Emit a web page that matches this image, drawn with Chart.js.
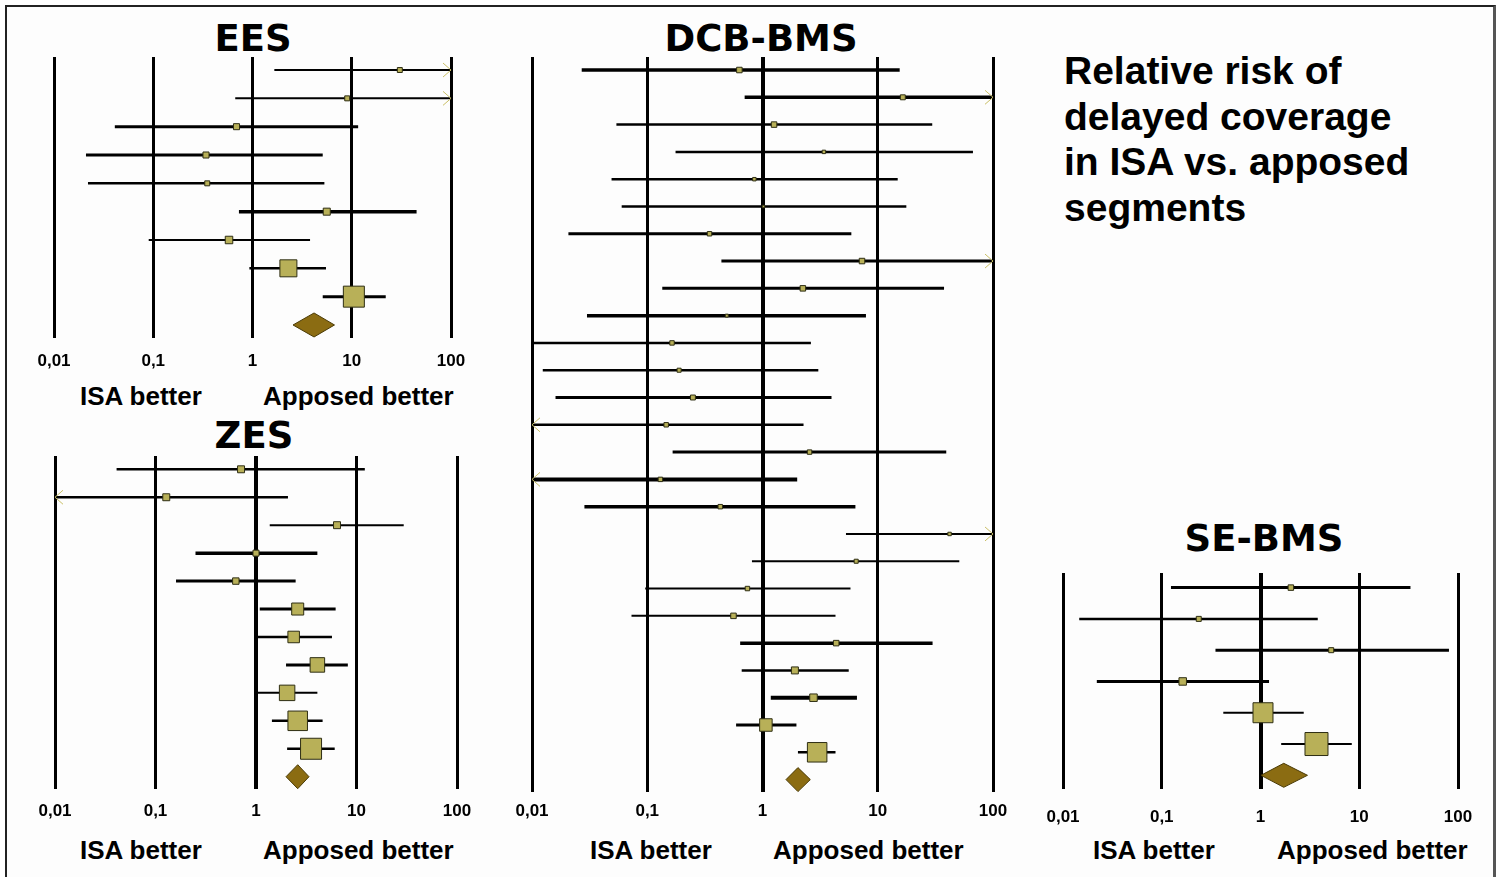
<!DOCTYPE html>
<html>
<head>
<meta charset="utf-8">
<script src="https://cdn.jsdelivr.net/npm/chart.js@4.4.1/dist/chart.umd.min.js"></script>
<style>
  body { margin:0; width:1500px; height:877px; background:#fff; position:relative; overflow:hidden; font-family:"Liberation Sans", Arial, sans-serif; }
  #frame { position:absolute; left:5px; top:5px; width:1486px; height:900px; border-left:2px solid #222; border-top:2px solid #222; border-right:3px solid #555; background:#fdfdfd; }
  canvas { position:absolute; }
  .title { position:absolute; font-family:"DejaVu Sans", sans-serif; font-weight:bold; font-size:37px; line-height:37px; transform:translateX(-50%); white-space:nowrap; color:#000; }
  .foot { position:absolute; font-weight:bold; font-size:26px; line-height:26px; white-space:nowrap; color:#000; }
  #heading { position:absolute; left:1064px; top:48px; font-weight:bold; font-size:39px; line-height:45.5px; color:#000; }
</style>
</head>
<body>
<div id="frame"></div>

<div class="title" style="left:253px; top:20px;">EES</div>
<div class="title" style="left:254px; top:417px;">ZES</div>
<div class="title" style="left:761px; top:20px;">DCB-BMS</div>
<div class="title" style="left:1264px; top:520px;">SE-BMS</div>

<div id="heading">Relative risk of<br>delayed coverage<br>in ISA vs. apposed<br>segments</div>

<div class="foot" style="left:80px; top:383px;">ISA better</div>
<div class="foot" style="left:263px; top:383px;">Apposed better</div>
<div class="foot" style="left:80px; top:837px;">ISA better</div>
<div class="foot" style="left:263px; top:837px;">Apposed better</div>
<div class="foot" style="left:590px; top:837px;">ISA better</div>
<div class="foot" style="left:773px; top:837px;">Apposed better</div>
<div class="foot" style="left:1093px; top:837px;">ISA better</div>
<div class="foot" style="left:1277px; top:837px;">Apposed better</div>

<canvas id="ees"></canvas>
<canvas id="zes"></canvas>
<canvas id="dcb"></canvas>
<canvas id="se"></canvas>

<script>
// log axis ticks
const tickValues = [0.01, 0.1, 1, 10, 100];

// EES: relative risk, 95% CI (null = beyond the axis), weight %
const eesEst = [30.5, 9.0, 0.69, 0.34, 0.35, 5.6, 0.58, 2.3, 10.5];
const eesLow = [1.66, 0.67, 0.041, 0.021, 0.022, 0.73, 0.09, 0.93, 5.1];
const eesHigh = [null, null, 11.6, 5.1, 5.3, 45, 3.8, 5.5, 22];
const eesWeight = [3.1, 3.1, 4.3, 4.3, 3.1, 5.6, 6.3, 28.2, 42.1];
const eesPooled = [4.17, 2.56, 6.7];

// ZES
const zesEst = [0.71, 0.128, 6.4, 1.0, 0.63, 2.6, 2.37, 4.08, 2.04, 2.6, 3.53];
const zesLow = [0.041, null, 1.37, 0.25, 0.16, 1.09, 1.02, 1.99, 1.02, 1.44, 2.04];
const zesHigh = [12.1, 2.08, 29.5, 4.08, 2.48, 6.2, 5.7, 8.2, 4.08, 4.6, 6.07];
const zesWeight = [3.1, 3.1, 3.1, 2.4, 2.7, 8.3, 7.7, 11.8, 13.3, 20.6, 23.7];
const zesPooled = [2.6, 1.99, 3.37];

// DCB-BMS
const dcbEst = [0.63, 16.5, 1.26, 3.41, 0.85, 1.02, 0.347, 7.3, 2.24, 0.49, 0.164, 0.189, 0.249,
  0.146, 2.56, 0.13, 0.43, 42, 6.5, 0.74, 0.56, 4.36, 1.91, 2.77, 1.07, 2.98];
const dcbLow = [0.027, 0.70, 0.054, 0.176, 0.049, 0.060, 0.0207, 0.44, 0.135, 0.030, 0.01, 0.0124, 0.016,
  null, 0.166, null, 0.0285, 5.3, 0.81, 0.096, 0.073, 0.64, 0.66, 1.18, 0.59, 2.03];
const dcbHigh = [15.5, null, 29.7, 67, 14.9, 17.7, 5.9, null, 37.6, 7.9, 2.63, 3.05, 3.97,
  2.27, 39.3, 2.0, 6.4, null, 51, 5.8, 4.3, 29.9, 5.6, 6.6, 1.97, 4.3];
const dcbWeight = [3.0, 2.5, 3.0, 1.4, 1.4, 0.9, 2.1, 3.0, 3.0, 1.1, 2.1, 1.8, 2.5,
  2.1, 2.1, 2.1, 2.1, 1.4, 1.8, 2.1, 3.0, 3.0, 4.5, 5.1, 12.9, 29.7];
const dcbPooled = [2.03, 1.6, 2.6];

// SE-BMS
const seEst = [2.03, 0.237, 5.2, 0.163, 1.06, 3.69];
const seLow = [0.124, 0.0146, 0.35, 0.022, 0.42, 1.62];
const seHigh = [33, 3.8, 81, 1.22, 2.74, 8.4];
const seWeight = [3.5, 3.0, 3.0, 6.0, 36.6, 47.9];
const sePooled = [1.72, 1.01, 2.99];

// line widths of the CI bars (style)
const eesLineW = [2, 2, 3, 3, 2.5, 3.5, 2, 2.5, 3];
const zesLineW = [2.5, 2.5, 2, 3.5, 3, 3, 2.5, 3, 2, 2.5, 2.5];
const dcbLineW = [3.5, 3.5, 2.5, 2.5, 2.5, 2.5, 3, 3, 3, 3.5, 2.5, 2.5, 3, 2.5, 3, 4, 3.5, 2, 2, 2, 2, 3.5, 2.5, 4, 3, 2.5];
const seLineW = [3, 2.5, 3, 3, 2, 2];

const boxFill = '#b8b058';
const diamondFill = '#8b6c12';
const arrowColor = '#c9bf66';

function forestPlugin(p) {
  return {
    id: 'forest',
    beforeDatasetsDraw(chart) {
      const x = chart.scales.x, y = chart.scales.y, ctx = chart.ctx;
      ctx.save();
      p.est.forEach((e, i) => {
        const py = y.getPixelForValue(i + 1);
        const lo = p.low[i] === null ? x.min : Math.max(p.low[i], x.min);
        const hi = p.high[i] === null ? x.max : Math.min(p.high[i], x.max);
        const x0 = x.getPixelForValue(lo), x1 = x.getPixelForValue(hi);
        ctx.strokeStyle = '#000';
        ctx.lineWidth = p.lineW[i];
        ctx.beginPath();
        ctx.moveTo(x0, py);
        ctx.lineTo(x1, py);
        ctx.stroke();
        ctx.strokeStyle = arrowColor;
        ctx.lineWidth = 1;
        if (p.high[i] === null) {
          ctx.beginPath();
          ctx.moveTo(x1 - 8, py - 7); ctx.lineTo(x1, py); ctx.lineTo(x1 - 8, py + 7);
          ctx.stroke();
        }
        if (p.low[i] === null) {
          ctx.beginPath();
          ctx.moveTo(x0 + 8, py - 7); ctx.lineTo(x0, py); ctx.lineTo(x0 + 8, py + 7);
          ctx.stroke();
        }
      });
      // pooled diamond
      const row = p.est.length + 1;
      const py = y.getPixelForValue(row);
      const [pe, pl, ph] = p.pooled;
      ctx.fillStyle = diamondFill;
      ctx.strokeStyle = '#4a3a05';
      ctx.lineWidth = 1;
      ctx.beginPath();
      ctx.moveTo(x.getPixelForValue(pl), py);
      ctx.lineTo(x.getPixelForValue(pe), py - 12);
      ctx.lineTo(x.getPixelForValue(ph), py);
      ctx.lineTo(x.getPixelForValue(pe), py + 12);
      ctx.closePath();
      ctx.fill();
      ctx.stroke();
      ctx.restore();
    }
  };
}

function buildPanel(id, p) {
  const padX = 40, padT = 10;
  const areaW = p.right - p.left, areaH = p.bottom - p.top;
  // the x axis box takes the tick padding twice plus one label line
  const axisH = 2 * p.tickPad + 17 * 1.2;
  const H = Math.ceil(areaH + padT + axisH + 10);
  const canvas = document.getElementById(id);
  canvas.width = areaW + 2 * padX;
  canvas.height = H;
  canvas.style.left = (p.left - padX) + 'px';
  canvas.style.top = (p.top - padT) + 'px';
  const maxW = Math.max(...p.weight);

  new Chart(canvas, {
    type: 'scatter',
    data: {
      datasets: [{
        data: p.est.map((e, i) => ({ x: e, y: i + 1 })),
        pointStyle: 'rect',
        pointRadius: p.weight.map(w => (p.maxSide * Math.sqrt(w / maxW) - 1) / Math.SQRT2),
        backgroundColor: boxFill,
        borderColor: '#2e2e14',
        borderWidth: 1
      }]
    },
    options: {
      responsive: false,
      animation: false,
      devicePixelRatio: 1,
      events: [],
      layout: { autoPadding: false, padding: { left: padX, right: padX, top: padT, bottom: H - padT - areaH - axisH } },
      plugins: { legend: { display: false }, tooltip: { enabled: false } },
      scales: {
        x: {
          type: 'logarithmic',
          min: 0.01,
          max: 100,
          afterBuildTicks: axis => { axis.ticks = tickValues.map(v => ({ value: v })); },
          border: { display: false },
          grid: {
            color: '#000',
            drawTicks: false,
            lineWidth: c => (c.tick && c.tick.value === 1 ? p.oneW : 3)
          },
          ticks: {
            autoSkip: false,
            maxRotation: 0,
            padding: p.tickPad,
            color: '#000',
            font: { family: 'Liberation Sans', weight: 'bold', size: 17 },
            callback: v => String(v).replace('.', ',')
          }
        },
        y: {
          type: 'linear',
          display: false,
          reverse: true,
          min: p.yMin,
          max: p.yMax
        }
      }
    },
    plugins: [forestPlugin(p)]
  });
}

buildPanel('ees', { est: eesEst, low: eesLow, high: eesHigh, weight: eesWeight, pooled: eesPooled,
  lineW: eesLineW, maxSide: 22, oneW: 3, left: 54, right: 451, top: 57, bottom: 338,
  yMin: 0.54, yMax: 10.46, tickPad: 13 });
buildPanel('zes', { est: zesEst, low: zesLow, high: zesHigh, weight: zesWeight, pooled: zesPooled,
  lineW: zesLineW, maxSide: 22, oneW: 4, left: 55, right: 457, top: 456, bottom: 789,
  yMin: 0.524, yMax: 12.44, tickPad: 12 });
buildPanel('dcb', { est: dcbEst, low: dcbLow, high: dcbHigh, weight: dcbWeight, pooled: dcbPooled,
  lineW: dcbLineW, maxSide: 20.5, oneW: 4, left: 532, right: 993, top: 57, bottom: 792,
  yMin: 0.523, yMax: 27.455, tickPad: 9 });
buildPanel('se', { est: seEst, low: seLow, high: seHigh, weight: seWeight, pooled: sePooled,
  lineW: seLineW, maxSide: 24, oneW: 4, left: 1063, right: 1458, top: 573, bottom: 789,
  yMin: 0.533, yMax: 7.438, tickPad: 18 });
</script>
</body>
</html>
